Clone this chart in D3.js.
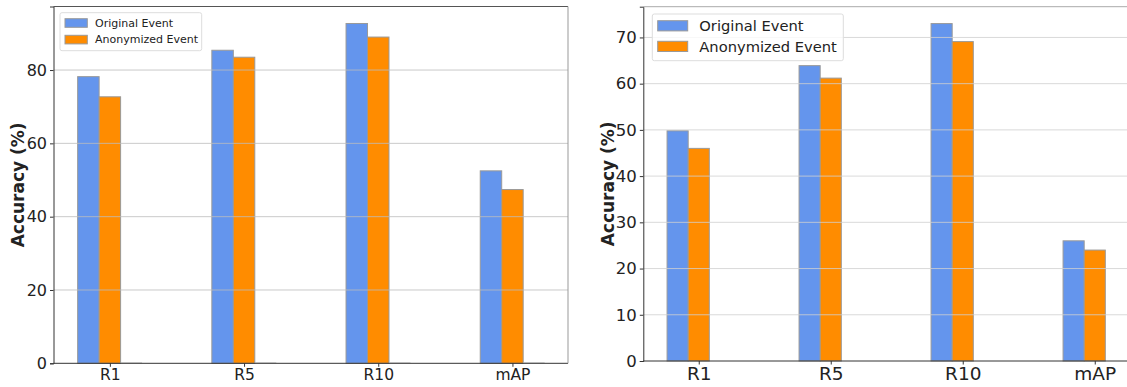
<!DOCTYPE html>
<html>
<head>
<meta charset="utf-8">
<script src="https://cdn.jsdelivr.net/npm/d3@7"></script>
<style>
  body { margin: 0; background: #fff; }
  text { font-family: "DejaVu Sans", sans-serif; fill: #222; }
</style>
</head>
<body>
<div id="chart"></div>
<script>
// categories and values
const categories = ["R1", "R5", "R10", "mAP"];
const seriesNames = ["Original Event", "Anonymized Event"];
const leftOriginal = [78.2, 85.4, 92.7, 52.5];
const leftAnonymized = [72.7, 83.5, 89.0, 47.4];
const leftExtra = [0, 0, 0, 0];   // empty third bar left in the figure
const rightOriginal = [49.8, 63.9, 73.0, 26.0];
const rightAnonymized = [46.0, 61.2, 69.1, 24.0];
const leftTicks = [0, 20, 40, 60, 80];
const rightTicks = [0, 10, 20, 30, 40, 50, 60, 70];

const colors = ["#6495ED", "#FF8C00"];
const barW = 0.16;

const svg = d3.select("#chart").append("svg")
    .attr("width", 1127)
    .attr("height", 387);

svg.append("rect").attr("width", 1127).attr("height", 387).attr("fill", "#fff");

function drawPanel(p) {
    const x = d3.scaleLinear().domain([-0.26, 3.574]).range([p.left, p.right]);
    const y = d3.scaleLinear().domain([0, p.ymax * 1.05]).range([p.bottom, p.top]);

    const g = svg.append("g");

    // bars
    p.series.forEach((vals, s) => {
        g.selectAll(".bar" + s).data(vals).enter().append("rect")
            .attr("x", (d, i) => x(i + s * barW - barW / 2))
            .attr("width", x(barW) - x(0))
            .attr("y", d => y(d))
            .attr("height", d => y(0) - y(d))
            .attr("fill", colors[s])
            .attr("stroke", "#999")
            .attr("stroke-width", 1);
    });
    if (p.extra) {
        g.selectAll(".extra").data(p.extra).enter().append("line")
            .attr("x1", (d, i) => x(i + 2 * barW - barW / 2))
            .attr("x2", (d, i) => x(i + 2 * barW + barW / 2))
            .attr("y1", d => y(d) - 0.5).attr("y2", d => y(d) - 0.5)
            .attr("stroke", "#ccc");
    }

    // grid on top of bars
    g.selectAll(".grid").data(p.ticks.filter(t => t > 0)).enter().append("line")
        .attr("x1", p.left).attr("x2", Math.min(p.right, 1127))
        .attr("y1", d => y(d)).attr("y2", d => y(d))
        .attr("stroke", p.gridColor)
        .attr("stroke-opacity", 0.8)
        .attr("stroke-width", 1);

    // y axis
    const yAxis = d3.axisLeft(y).tickValues(p.ticks).tickSize(3.5).tickPadding(3);
    const ya = g.append("g").attr("transform", "translate(" + p.left + ",0)").call(yAxis);
    ya.select(".domain").attr("stroke", "#333");
    ya.selectAll(".tick line").attr("stroke", "#333");
    ya.selectAll("text").style("font-size", p.tickFont + "px").attr("fill", "#222");

    // x axis
    const xAxis = d3.axisBottom(x).tickValues(categories.map((c, i) => i + barW))
        .tickFormat((d, i) => categories[i]).tickSize(3.5).tickPadding(2);
    const xa = g.append("g").attr("transform", "translate(0," + p.bottom + ")").call(xAxis);
    xa.select(".domain").remove();
    xa.selectAll(".tick line").attr("stroke", "#333");
    xa.selectAll("text").style("font-size", p.catFont + "px").attr("fill", "#222");
    g.append("line").attr("x1", p.left).attr("x2", Math.min(p.right, 1127))
        .attr("y1", p.bottom).attr("y2", p.bottom).attr("stroke", "#333");

    // top / right spines
    g.append("line").attr("x1", p.left).attr("x2", Math.min(p.right, 1127))
        .attr("y1", p.top).attr("y2", p.top).attr("stroke", p.topSpine);
    if (p.right < 1127) {
        g.append("line").attr("x1", p.right).attr("x2", p.right)
            .attr("y1", p.top).attr("y2", p.bottom).attr("stroke", "#999");
    }

    // y label
    g.append("text")
        .attr("transform", "translate(" + p.ylabelX + "," + (p.top + p.bottom) / 2 + ") rotate(-90)")
        .attr("text-anchor", "middle")
        .style("font-size", p.ylabelFont + "px")
        .style("font-weight", "bold")
        .attr("fill", "#111")
        .text("Accuracy (%)");

    // legend
    const L = p.legend;
    const lg = g.append("g");
    lg.append("rect")
        .attr("x", L.x).attr("y", L.y).attr("width", L.w).attr("height", L.h)
        .attr("rx", 2).attr("fill", "#fff").attr("fill-opacity", 0.8)
        .attr("stroke", "#ddd");
    seriesNames.forEach((name, s) => {
        lg.append("rect")
            .attr("x", L.x + L.pad).attr("y", L.y + L.rowTop + s * L.rowH)
            .attr("width", L.pw).attr("height", L.ph)
            .attr("fill", colors[s]).attr("stroke", "#999");
        lg.append("text")
            .attr("x", L.x + L.textX).attr("y", L.y + L.rowTop + s * L.rowH + L.ph / 2)
            .attr("dy", "0.35em")
            .style("font-size", L.font + "px")
            .text(name);
    });
}

drawPanel({
    left: 53.5, right: 568, top: 6.5, bottom: 363.3,
    ymax: 92.7, ticks: leftTicks,
    series: [leftOriginal, leftAnonymized], extra: leftExtra,
    gridColor: "#bbb", topSpine: "#555",
    tickFont: 16, catFont: 15.5, ylabelFont: 17, ylabelX: 24,
    legend: {x: 60, y: 12.7, w: 141.7, h: 38, pad: 5, rowTop: 6, rowH: 16.6,
             pw: 22.3, ph: 8.6, textX: 35, font: 11}
});

drawPanel({
    left: 643.3, right: 1149.4, top: 6.7, bottom: 361,
    ymax: 73.0, ticks: rightTicks,
    series: [rightOriginal, rightAnonymized],
    gridColor: "#d0d0d0", topSpine: "#aaa",
    tickFont: 16.5, catFont: 18.5, ylabelFont: 17, ylabelX: 614,
    legend: {x: 652.3, y: 14, w: 191, h: 46.7, pad: 5.4, rowTop: 6.7, rowH: 20.6,
             pw: 30, ph: 10.2, textX: 47, font: 14.7}
});
</script>
</body>
</html>
